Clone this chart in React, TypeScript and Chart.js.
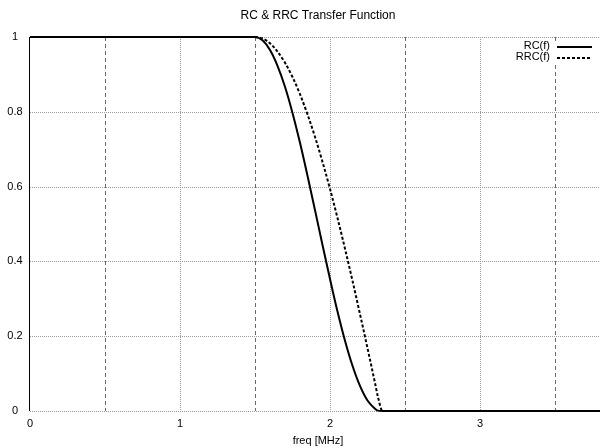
import React, { useEffect, useRef } from "react";
import { Chart, registerables } from "chart.js";

Chart.register(...registerables);

// Data
const freq = [0, 1.5, 1.55, 1.6, 1.65, 1.7, 1.75, 1.8, 1.85, 1.9, 1.95, 2.0, 2.05, 2.1, 2.15, 2.2, 2.25, 2.3, 2.32, 2.35, 2.4, 3.8];
const rcValues = [1, 1, 0.991, 0.965, 0.923, 0.867, 0.797, 0.717, 0.629, 0.537, 0.444, 0.353, 0.266, 0.188, 0.121, 0.067, 0.028, 0.006, 0.001, 0, 0, 0];
const rrcValues = [1, 1, 0.996, 0.983, 0.961, 0.931, 0.893, 0.847, 0.793, 0.733, 0.666, 0.594, 0.516, 0.434, 0.348, 0.259, 0.168, 0.075, 0.037, 0, 0, 0];

const xTicks = [0, 1, 2, 3];
const yTicks = [0, 0.2, 0.4, 0.6, 0.8, 1];
const xDottedGrid = [1, 2, 3];
const xDashedGrid = [0.5, 1.5, 2.5, 3.5];
const yDottedGrid = [0, 0.2, 0.4, 0.6, 0.8, 1];

const titleText = "RC & RRC Transfer Function";
const xAxisTitle = "freq [MHz]";
const seriesLabels = ["RC(f)", "RRC(f)"];

const FONT = "'Liberation Sans', Arial, Helvetica, sans-serif";
const RRC_DASH = [3, 2];

const decorPlugin = {
  id: "decor",
  beforeDatasetsDraw(chart: any) {
    const { ctx, chartArea, scales } = chart;
    const xs = scales.x;
    const ys = scales.y;
    ctx.save();
    ctx.lineWidth = 1;
    ctx.strokeStyle = "#9a9a9a";
    ctx.setLineDash([1, 1]);
    for (const v of yDottedGrid) {
      const y = Math.round(ys.getPixelForValue(v)) + 0.5;
      ctx.beginPath();
      ctx.moveTo(chartArea.left, y);
      ctx.lineTo(chartArea.right, y);
      ctx.stroke();
    }
    for (const v of xDottedGrid) {
      const x = Math.round(xs.getPixelForValue(v)) + 0.5;
      ctx.beginPath();
      ctx.moveTo(x, chartArea.top);
      ctx.lineTo(x, chartArea.bottom);
      ctx.stroke();
    }
    ctx.strokeStyle = "#6a6a6a";
    ctx.setLineDash([4, 3]);
    for (const v of xDashedGrid) {
      const x = Math.round(xs.getPixelForValue(v)) + 0.5;
      ctx.beginPath();
      ctx.moveTo(x, chartArea.top);
      ctx.lineTo(x, chartArea.bottom);
      ctx.stroke();
    }
    ctx.setLineDash([]);
    ctx.fillStyle = "#ffffff";
    ctx.fillRect(500, 41, 98, 24);
    ctx.strokeStyle = "#000000";
    ctx.lineWidth = 1;
    ctx.beginPath();
    ctx.moveTo(chartArea.left - 0.5, chartArea.top);
    ctx.lineTo(chartArea.left - 0.5, chartArea.bottom);
    ctx.stroke();

    // tick labels
    ctx.fillStyle = "#000";
    ctx.font = `11px ${FONT}`;
    ctx.textAlign = "center";
    ctx.textBaseline = "middle";
    for (const v of yTicks) {
      ctx.fillText(String(v), 15, ys.getPixelForValue(v));
    }
    for (const v of xTicks) {
      ctx.fillText(String(v), xs.getPixelForValue(v), 424);
    }
    ctx.restore();
  },
  afterDraw(chart: any) {
    const { ctx } = chart;
    ctx.save();
    ctx.fillStyle = "#000";
    ctx.textAlign = "center";
    ctx.textBaseline = "middle";
    ctx.font = `12px ${FONT}`;
    ctx.fillText(titleText, 318, 16);
    ctx.font = `11px ${FONT}`;
    ctx.fillText(xAxisTitle, 318, 441);
    ctx.textAlign = "right";
    ctx.fillText(seriesLabels[0], 550, 46);
    ctx.fillText(seriesLabels[1], 550, 57);
    ctx.strokeStyle = "#000";
    ctx.lineWidth = 2;
    ctx.beginPath();
    ctx.moveTo(557, 47);
    ctx.lineTo(592, 47);
    ctx.stroke();
    ctx.setLineDash(RRC_DASH);
    ctx.beginPath();
    ctx.moveTo(557, 58);
    ctx.lineTo(592, 58);
    ctx.stroke();
    ctx.restore();
  },
};

export default function App() {
  const canvasRef = useRef<HTMLCanvasElement | null>(null);

  useEffect(() => {
    const canvas = canvasRef.current;
    if (!canvas) return;
    const chart = new Chart(canvas, {
      type: "line",
      data: {
        datasets: [
          {
            label: seriesLabels[0],
            data: freq.map((f, i) => ({ x: f, y: rcValues[i] })),
            borderColor: "#000",
            borderWidth: 2,
            pointRadius: 0,
            cubicInterpolationMode: "monotone",
            fill: false,
            clip: 4,
          },
          {
            label: seriesLabels[1],
            data: freq.map((f, i) => ({ x: f, y: rrcValues[i] })),
            borderColor: "#000",
            borderWidth: 2,
            borderDash: RRC_DASH,
            pointRadius: 0,
            cubicInterpolationMode: "monotone",
            fill: false,
            clip: 4,
          },
        ],
      },
      options: {
        animation: false,
        responsive: false,
        devicePixelRatio: 1,
        layout: { padding: { top: 37, left: 0, right: 0, bottom: 0 } },
        plugins: {
          legend: { display: false },
          title: { display: false },
          tooltip: { enabled: false },
        },
        scales: {
          x: {
            type: "linear",
            min: 0,
            max: 3.8,
            grid: { display: false },
            border: { display: false },
            ticks: { display: false },
            afterFit: (scale: any) => {
              scale.height = 37;
            },
          },
          y: {
            type: "linear",
            min: 0,
            max: 1,
            grid: { display: false },
            border: { display: false },
            ticks: { display: false },
            afterFit: (scale: any) => {
              scale.width = 30;
            },
          },
        },
      },
      plugins: [decorPlugin],
    } as any);
    return () => chart.destroy();
  }, []);

  return (
    <div style={{ position: "absolute", left: 0, top: 0, width: 600, height: 448, background: "#fff" }}>
      <canvas ref={canvasRef} width={600} height={448} style={{ display: "block", width: 600, height: 448 }} />
    </div>
  );
}
